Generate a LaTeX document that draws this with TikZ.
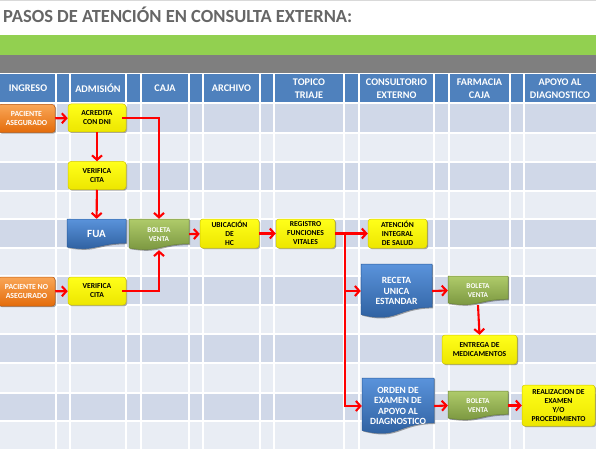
\documentclass[tikz,border=0pt]{standalone}
\usepackage{fontspec}
\setmainfont{Carlito}[BoldFont={Carlito Bold}]
\newfontfamily\cbold{Carlito Bold}
\usetikzlibrary{arrows.meta,shadows}
\definecolor{hdrblue}{HTML}{4F81BD}
\definecolor{rowdark}{HTML}{D0D8E8}
\definecolor{rowlight}{HTML}{E9EDF4}
\definecolor{bandgreen}{HTML}{92D050}
\definecolor{bandgray}{HTML}{7F7F7F}
\definecolor{titlegray}{HTML}{666666}
\definecolor{arrred}{HTML}{FF0000}
\definecolor{ytop}{HTML}{FFFF1A}
\definecolor{ybot}{HTML}{EDE600}
\definecolor{yedge}{HTML}{D2C800}
\definecolor{otop}{HTML}{F9A657}
\definecolor{obot}{HTML}{E46C0A}
\definecolor{oedge}{HTML}{C0580A}
\definecolor{btop}{HTML}{5A93DB}
\definecolor{bbot}{HTML}{2B5C9B}
\definecolor{gtop}{HTML}{AFCB6A}
\definecolor{gbot}{HTML}{76923C}
\definecolor{gedge}{HTML}{6B8535}
\tikzset{
  hdr/.style={text=white, font=\cbold\fontsize{10.2}{13}\selectfont, align=center, inner sep=0},
  shad/.style={drop shadow={shadow xshift=1.2pt, shadow yshift=-1.2pt, opacity=0.35, fill=black}},
  ybox/.style={shad, rectangle, rounded corners=3pt, top color=ytop, bottom color=ybot, draw=yedge, line width=0.5pt,
    align=center, inner sep=0, text=black, font=\cbold\fontsize{7.6}{9}\selectfont},
  obox/.style={shad, rectangle, rounded corners=3pt, top color=otop, bottom color=obot, draw=oedge, line width=0.5pt,
    align=center, inner sep=0, text=white, font=\cbold\fontsize{7.8}{9}\selectfont},
  bluedoc/.style={shad, top color=btop, bottom color=bbot, draw=bbot, line width=0.5pt},
  greendoc/.style={shad, top color=gtop, bottom color=gbot, draw=gedge, line width=0.5pt},
  doctext/.style={align=center, inner sep=0, text=white, font=\cbold\fontsize{9.5}{10.5}\selectfont},
  gdoctext/.style={align=center, inner sep=0, text=white, font=\cbold\fontsize{7.3}{9.5}\selectfont},
  arr/.style={draw=arrred, line width=2.1pt, -{Straight Barb[length=4.5pt,width=10pt]}},
}
% name, x1, y1, x2, y2, shape style, text style, text
\newcommand\docnode[8]{%
  \path[#6] (#2,#3) -- (#4,#3) -- (#4,{#3+0.80*(#5-#3)})
    .. controls ({(#2+#4)/2},{#3+0.80*(#5-#3)}) and ({(#2+#4)/2},{#3+1.107*(#5-#3)}) .. (#2,{#3+0.934*(#5-#3)}) -- cycle;
  \node[#7, minimum width={#4-#2}, minimum height={#5-#3}] (#1) at ({(#2+#4)/2},{(#3+#5)/2}) {#8};
}
\begin{document}
\begin{tikzpicture}[x=1pt,y=-1pt]
\useasboundingbox (0,0) rectangle (596,449);
\fill[white] (0,0) rectangle (596,449);
\draw[black!15, line width=0.8pt] (0,0.5) -- (596,0.5);
\node[anchor=base west, inner sep=0, text=titlegray, font=\cbold\fontsize{18.5}{20}\selectfont] (title) at (3,23) {PASOS DE ATENCIÓN EN CONSULTA EXTERNA:};
\fill[bandgreen] (0,35) rectangle (596,55);
\fill[bandgray] (0,55) rectangle (596,73);
\fill[hdrblue] (0,74) rectangle (596,102);
\foreach \a/\b/\c in {104/133/rowdark,133/162/rowlight,162/191/rowdark,191/219/rowlight,219/248/rowdark,248/276/rowlight,276/305/rowdark,305/334/rowlight,334/363/rowdark,363/393/rowlight,393/421/rowdark,421/449/rowlight}
  \fill[\c] (0,\a) rectangle (596,\b);
\foreach \y in {133,162,191,219,248,276,305,334,363,393,421}
  \draw[white, line width=1.3pt] (0,\y) -- (596,\y);
\foreach \x in {56,70,126,141,189,203,260,274,344,359,434,449,510,524}
  \draw[white, line width=1.4pt] (\x,74) -- (\x,449);
% headers
\node[hdr] (hing) at (28,88) {INGRESO};
\node[hdr] (hadm) at (98,88) {ADMISIÓN};
\node[hdr] (hcaj) at (165,88) {CAJA};
\node[hdr] (harc) at (231.5,88) {ARCHIVO};
\node[hdr] (htop) at (309,88.5) {TOPICO\\TRIAJE};
\node[hdr] (hcon) at (396.5,88.5) {CONSULTORIO\\EXTERNO};
\node[hdr] (hfar) at (479.5,88.5) {FARMACIA\\CAJA};
\node[hdr] (hapo) at (560,88.5) {APOYO AL\\DIAGNOSTICO};
% boxes
\node[obox, minimum width=57, minimum height=28] (pa) at (26.5,118.5) {PACIENTE\\ASEGURADO};
\node[ybox, minimum width=58, minimum height=28] (acr) at (97,118) {ACREDITA\\CON DNI};
\node[ybox, minimum width=58, minimum height=28] (ver1) at (97,175.5) {VERIFICA\\CITA};
\docnode{fua}{67}{219}{126}{249}{bluedoc}{doctext,font=\cbold\fontsize{11}{12}\selectfont}{FUA}
\docnode{bol1}{129}{219}{189}{250}{greendoc}{gdoctext}{BOLETA\\VENTA}
\node[ybox, minimum width=59, minimum height=29] (ubi) at (229.5,233.5) {UBICACIÓN\\DE\\HC};
\node[ybox, minimum width=59, minimum height=29] (reg) at (305.5,233.5) {REGISTRO\\FUNCIONES\\VITALES};
\node[ybox, minimum width=59, minimum height=29] (ate) at (397.5,233.5) {ATENCIÓN\\INTEGRAL\\DE SALUD};
\docnode{rec}{361}{264}{432}{318}{bluedoc}{doctext}{RECETA\\UNICA\\ESTANDAR}
\docnode{bol2}{448}{276}{508}{305}{greendoc}{gdoctext}{BOLETA\\VENTA}
\node[ybox, minimum width=75, minimum height=29] (ent) at (479.5,349.5) {ENTREGA DE\\MEDICAMENTOS};
\docnode{ord}{362}{378}{434}{434}{bluedoc}{doctext}{ORDEN DE\\EXAMEN DE\\APOYO AL\\DIAGNOSTICO}
\docnode{bol3}{448}{391}{508}{420}{greendoc}{gdoctext}{BOLETA\\VENTA}
\node[ybox, minimum width=73, minimum height=41] (rea) at (558.5,405.5) {REALIZACION DE\\EXAMEN\\Y/O\\PROCEDIMIENTO};
\node[obox, minimum width=57, minimum height=29] (pna) at (26.5,291.5) {PACIENTE NO\\ASEGURADO};
\node[ybox, minimum width=58, minimum height=28] (ver2) at (97,291) {VERIFICA\\CITA};
% connectors
\draw[arr] (pa) -- (acr);
\draw[arr] (acr) -- (ver1);
\draw[arr] (ver1) -- (fua);
\draw[arr] ([xshift=-4pt]acr.east) -| (bol1.north);
\draw[arr] ([xshift=-4pt]ver2.east) -| (bol1.south);
\draw[arr] (pna) -- (ver2);
\draw[arr] (bol1) -- (ubi);
\draw[arr] (ubi) -- (reg);
\draw[arr] (reg) -- (ate);
\coordinate (split) at (345,233.5);
\draw[arr] (split) |- (rec.west);
\draw[arr] (split) |- (ord.west);
\draw[arr] (rec.east) -- (bol2.west);
\draw[arr] (bol2.south) -- (ent.north);
\draw[arr] (ord.east) -- (bol3.west);
\draw[arr] (bol3.east) -- (rea.west);
\end{tikzpicture}
\end{document}
